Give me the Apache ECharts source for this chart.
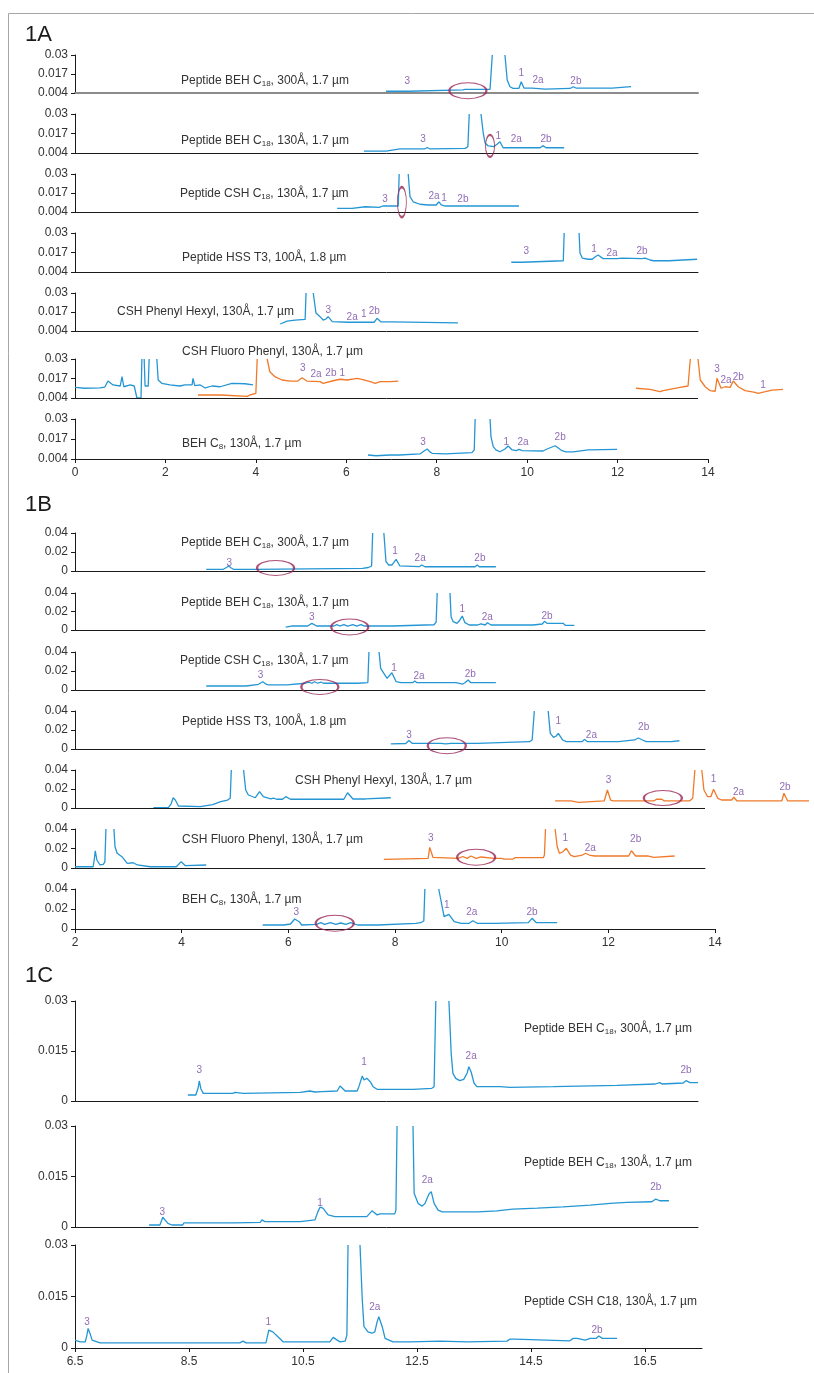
<!DOCTYPE html>
<html>
<head>
<meta charset="utf-8">
<script src="https://cdn.jsdelivr.net/npm/echarts@6/dist/echarts.min.js"></script>
<style>
  html, body { margin: 0; padding: 0; background: #fff; }
  #chart { width: 814px; height: 1373px; }
</style>
</head>
<body>
<div id="chart"></div>
<script>
// ---------- tick labels ----------
const A_yTicks = [0.004, 0.017, 0.03];
const A_xTicks = [0, 2, 4, 6, 8, 10, 12, 14];
const B_yTicks = [0, 0.02, 0.04];
const B_xTicks = [2, 4, 6, 8, 10, 12, 14];
const C_yTicks = [0, 0.015, 0.03];
const C_xTicks = [6.5, 8.5, 10.5, 12.5, 14.5, 16.5];

// ---------- chromatogram traces: [time (min), absorbance (AU)]; a null absorbance marks an off-scale gap ----------
// 1A
const A1_blue = [[6.88,0.0052],[7.37,0.0052],[7.39,0.0063],[8.58,0.0061],[8.63,0.0065],[9.18,0.0065],[9.23,0.03],[9.37,null],[9.51,0.03],[9.56,0.0129],[9.62,0.0083],[9.69,0.0072],[9.82,0.0072],[9.87,0.0117],[9.93,0.0074],[10.11,0.0074],[10.15,0.0067],[10.4,0.0067],[10.44,0.0071],[10.95,0.0071],[11.02,0.0083],[11.08,0.0074],[11.88,0.0074],[11.9,0.0083],[12.3,0.0083]];
const A1_peaks = [['3',7.35,0.0122],['1',9.87,0.0177],['2a',10.24,0.0129],['2b',11.08,0.0122]];
const A1_rings = [[8.69,0.0056]];

const A2_blue = [[6.39,0.0053],[6.88,0.0053],[6.9,0.006],[7.19,0.0067],[7.73,0.0067],[7.79,0.0077],[7.85,0.0067],[8.63,0.0071],[8.69,0.0082],[8.72,0.03],[8.85,null],[8.98,0.03],[9.03,0.0173],[9.07,0.0107],[9.14,0.0087],[9.27,0.0083],[9.34,0.01],[9.4,0.0115],[9.47,0.0075],[10.29,0.0075],[10.35,0.0089],[10.42,0.0075],[10.82,0.0075]];
const A2_peaks = [['3',7.7,0.0133],['1',9.36,0.0153],['2a',9.76,0.0133],['2b',10.42,0.0133]];
const A2_rings = [[9.18,0.0087]];

const A3_blue = [[5.8,0.0065],[6.13,0.0065],[6.15,0.0076],[6.42,0.0076],[6.44,0.0071],[6.73,0.0071],[6.75,0.0076],[6.81,0.0081],[7.15,0.0081],[7.17,0.03],[7.27,null],[7.37,0.03],[7.41,0.0145],[7.48,0.011],[7.63,0.0093],[7.81,0.0088],[7.99,0.0088],[8.05,0.011],[8.1,0.0088],[8.19,0.0081],[8.63,0.0081],[8.67,0.0088],[8.74,0.0081],[9.82,0.0081]];
const A3_peaks = [['3',6.86,0.0129],['2a',7.94,0.0149],['1',8.16,0.0136],['2b',8.58,0.0129]];
const A3_rings = [[7.23,0.0108]];

const A4_blue = [[9.65,0.0105],[9.89,0.0105],[9.91,0.0115],[10.8,0.0115],[10.82,0.03],[10.98,null],[11.15,0.03],[11.17,0.0167],[11.22,0.0133],[11.35,0.0125],[11.44,0.0125],[11.5,0.014],[11.57,0.0153],[11.68,0.0129],[11.99,0.0129],[12.1,0.0133],[12.54,0.0129],[12.61,0.0133],[12.72,0.012],[12.79,0.0115],[13.14,0.0115],[13.16,0.0125],[13.76,0.0125]];
const A4_peaks = [['3',9.98,0.018],['1',11.48,0.0193],['2a',11.88,0.0167],['2b',12.54,0.018]];

const A5_blue = [[4.54,0.0088],[4.69,0.0108],[4.87,0.0115],[5.09,0.0119],[5.11,0.03],[5.19,null],[5.27,0.03],[5.33,0.0163],[5.42,0.0138],[5.49,0.0115],[5.55,0.0122],[5.6,0.0138],[5.69,0.0104],[6.04,0.01],[6.08,0.0108],[6.13,0.01],[6.35,0.01],[6.37,0.0112],[6.42,0.01],[6.62,0.01],[6.68,0.0127],[6.77,0.0102],[7.01,0.0102],[7.04,0.0095],[8.47,0.0095]];
const A5_peaks = [['3',5.6,0.0184],['2a',6.13,0.0136],['1',6.39,0.0156],['2b',6.62,0.0177]];

const A6_blue = [[0,0.0111],[0.22,0.0105],[0.55,0.0107],[0.66,0.0113],[0.73,0.0153],[0.84,0.0127],[1.0,0.012],[1.02,0.012],[1.04,0.0182],[1.08,0.0115],[1.22,0.0127],[1.31,0.012],[1.35,0.012],[1.37,0.004],[1.46,0.004],[1.48,0.03],[1.5,null],[1.53,0.03],[1.55,0.012],[1.62,0.012],[1.64,0.03],[1.72,null],[1.81,0.03],[1.84,0.016],[1.92,0.0138],[2.1,0.0127],[2.32,0.012],[2.43,0.0127],[2.59,0.0127],[2.61,0.0171],[2.65,0.0122],[2.77,0.0127],[2.88,0.0107],[3.03,0.012],[3.21,0.0115],[3.47,0.0138],[3.76,0.0135],[3.94,0.0127]];
const A6_orange = [[2.72,0.006],[3.23,0.006],[3.25,0.0051],[3.81,0.0051],[3.87,0.006],[4.0,0.0071],[4.03,0.03],[4.14,null],[4.25,0.03],[4.31,0.0215],[4.42,0.0182],[4.58,0.016],[4.76,0.0153],[4.93,0.0153],[5.02,0.0175],[5.13,0.0153],[5.42,0.0149],[5.49,0.0138],[5.71,0.0155],[5.86,0.0165],[6.02,0.016],[6.24,0.0171],[6.37,0.0162],[6.53,0.0149],[6.64,0.0138],[6.75,0.0149],[6.97,0.0149],[7.15,0.0153],[9.8,null],[12.41,0.0105],[12.72,0.0097],[12.94,0.0082],[13.01,0.0089],[13.38,0.0111],[13.56,0.012],[13.61,0.03],[13.7,null],[13.78,0.03],[13.83,0.016],[13.94,0.0115],[14.05,0.0089],[14.16,0.0085],[14.2,0.0171],[14.29,0.0105],[14.38,0.0115],[14.49,0.0111],[14.56,0.0153],[14.67,0.0115],[14.82,0.0089],[15.04,0.0078],[15.11,0.0071],[15.27,0.0082],[15.42,0.0093],[15.66,0.0098]];
const A6_peaks = [['3',5.04,0.024],['2a',5.33,0.02],['2b',5.66,0.0207],['1',5.91,0.0207],['3',14.2,0.0233],['2a',14.4,0.016],['2b',14.67,0.018],['1',15.22,0.0127]];

const A7_blue = [[6.48,0.0066],[6.66,0.0061],[6.97,0.0066],[7.17,0.0066],[7.19,0.0073],[7.63,0.0073],[7.72,0.0092],[7.79,0.0105],[7.85,0.0086],[7.9,0.0077],[8.19,0.0073],[8.21,0.0081],[8.78,0.0081],[8.83,0.0099],[8.85,0.03],[9.02,null],[9.18,0.03],[9.2,0.0185],[9.25,0.012],[9.31,0.0099],[9.4,0.0087],[9.51,0.0105],[9.58,0.0125],[9.67,0.0099],[9.76,0.0094],[9.82,0.0102],[9.89,0.0094],[10.35,0.0092],[10.44,0.0105],[10.62,0.0126],[10.77,0.0094],[10.86,0.0086],[11.02,0.0086],[11.04,0.0099],[11.35,0.0099],[11.37,0.0103],[11.99,0.0103]];
const A7_peaks = [['3',7.7,0.0151],['1',9.54,0.0151],['2a',9.91,0.0151],['2b',10.73,0.0183]];

// 1B
const B1_blue = [[4.46,0.0018],[4.78,0.0018],[4.84,0.0037],[4.88,0.0053],[4.93,0.0032],[4.97,0.0018],[5.35,0.0018],[5.36,0.0028],[7.39,0.0028],[7.5,0.0037],[7.56,0.0053],[7.58,0.04],[7.68,null],[7.79,0.04],[7.83,0.0098],[7.88,0.0063],[7.94,0.0063],[8.02,0.0123],[8.09,0.0053],[8.45,0.0045],[8.5,0.0063],[8.56,0.0045],[9.5,0.0045],[9.54,0.0063],[9.58,0.0045],[9.89,0.0045]];
const B1_peaks = [['3',4.89,0.0084],['1',8.0,0.021],['2a',8.47,0.0137],['2b',9.59,0.0137]];
const B1_rings = [[5.76,0.0032]];

const B2_blue = [[5.95,0.0032],[6.06,0.0043],[6.36,0.0043],[6.44,0.0072],[6.53,0.0043],[6.85,0.0043],[6.91,0.0059],[6.96,0.0043],[7.04,0.0059],[7.11,0.0043],[7.21,0.0059],[7.28,0.0043],[7.36,0.0059],[7.43,0.0043],[7.94,0.0043],[7.96,0.0057],[8.73,0.0057],[8.77,0.0086],[8.79,0.04],[8.91,null],[9.03,0.04],[9.05,0.0144],[9.09,0.009],[9.16,0.0072],[9.2,0.0097],[9.26,0.0151],[9.31,0.0079],[9.39,0.0054],[9.54,0.0054],[9.61,0.0065],[9.69,0.0054],[9.73,0.0079],[9.8,0.0054],[10.59,0.0054],[10.61,0.0065],[10.76,0.0065],[10.8,0.0094],[10.85,0.0072],[11.15,0.0072],[11.19,0.0051],[11.36,0.0051]];
const B2_peaks = [['3',6.44,0.0141],['1',9.26,0.0227],['2a',9.73,0.0141],['2b',10.85,0.0151]];
const B2_rings = [[7.15,0.0032]];

const B3_blue = [[4.46,0.0042],[5.21,0.0042],[5.23,0.006],[5.44,0.006],[5.52,0.0087],[5.59,0.0058],[5.63,0.0053],[5.97,0.0053],[5.98,0.0071],[6.32,0.0071],[6.38,0.0084],[6.44,0.0071],[6.49,0.0087],[6.55,0.0071],[6.61,0.0084],[6.66,0.0071],[7.3,0.0071],[7.32,0.0077],[7.49,0.0077],[7.51,0.04],[7.6,null],[7.7,0.04],[7.73,0.0228],[7.79,0.0176],[7.85,0.0123],[7.88,0.0105],[7.94,0.0182],[8.02,0.0087],[8.11,0.0077],[8.33,0.0077],[8.37,0.0095],[8.41,0.0077],[9.14,0.0077],[9.16,0.0063],[9.27,0.0063],[9.31,0.0077],[9.37,0.0105],[9.42,0.0077],[9.89,0.0077]];
const B3_peaks = [['3',5.48,0.0158],['1',7.98,0.0232],['2a',8.45,0.0147],['2b',9.41,0.0168]];
const B3_rings = [[6.59,0.0032]];

const B4_blue = [[7.92,0.0053],[8.2,0.0058],[8.26,0.0089],[8.32,0.006],[8.86,0.006],[8.95,0.0053],[9.05,0.006],[9.54,0.006],[9.56,0.0077],[10.52,0.0077],[10.57,0.0095],[10.61,0.04],[10.74,null],[10.87,0.04],[10.91,0.0165],[10.97,0.0123],[11.02,0.0137],[11.06,0.0165],[11.14,0.0095],[11.21,0.0077],[11.51,0.0077],[11.55,0.0102],[11.61,0.0077],[12.19,0.0077],[12.21,0.0095],[12.49,0.0095],[12.56,0.0116],[12.64,0.0095],[12.71,0.0077],[13.18,0.0077],[13.33,0.0087]];
const B4_peaks = [['3',8.26,0.0147],['1',11.06,0.0295],['2a',11.68,0.0147],['2b',12.66,0.0232]];
const B4_rings = [[8.97,0.0035]];

const B5_blue = [[3.47,0.0003],[3.75,0.0003],[3.8,0.0042],[3.84,0.0108],[3.88,0.0084],[3.94,0.0021],[4.35,0.0014],[4.37,0.0035],[4.58,0.0035],[4.59,0.0056],[4.73,0.0066],[4.86,0.0084],[4.91,0.0102],[4.93,0.04],[5.04,null],[5.16,0.04],[5.2,0.0189],[5.25,0.0137],[5.38,0.0108],[5.46,0.0172],[5.53,0.0119],[5.67,0.0095],[5.72,0.0105],[5.78,0.0092],[5.89,0.0092],[5.95,0.0119],[6.04,0.0092],[7.04,0.0092],[7.11,0.0161],[7.21,0.0095],[7.45,0.0095],[7.47,0.0108],[7.92,0.0108]];
const B5_orange = [[11.0,0.0074],[11.3,0.0074],[11.32,0.006],[11.44,0.006],[11.45,0.0074],[11.92,0.0074],[11.98,0.0189],[12.04,0.0084],[12.09,0.0074],[12.85,0.0074],[12.9,0.0092],[13.0,0.0092],[13.05,0.0074],[13.52,0.0074],[13.58,0.0102],[13.62,0.04],[13.68,null],[13.75,0.04],[13.79,0.0189],[13.86,0.0119],[13.92,0.0119],[13.97,0.0197],[14.05,0.0102],[14.12,0.0084],[14.31,0.0084],[14.35,0.0113],[14.41,0.0074],[15.25,0.0074],[15.29,0.0155],[15.36,0.0074],[15.76,0.0074]];
const B5_peaks = [['3',12.0,0.0295],['1',13.97,0.0305],['2a',14.44,0.0168],['2b',15.31,0.0221]];
const B5_rings = [[13.02,0.0105]];

const B6_blue = [[2.0,0.0013],[2.34,0.0013],[2.36,0.0082],[2.38,0.0177],[2.41,0.0082],[2.47,0.0031],[2.53,0.0038],[2.56,0.0062],[2.58,0.04],[2.65,null],[2.73,0.04],[2.75,0.0218],[2.79,0.0151],[2.81,0.0167],[2.88,0.0116],[2.98,0.0048],[3.09,0.0054],[3.17,0.0031],[3.41,0.0013],[3.9,0.0013],[3.99,0.0065],[4.07,0.0024],[4.46,0.0031]];
const B6_orange = [[7.79,0.0089],[8.62,0.0099],[8.65,0.0212],[8.71,0.011],[9.18,0.0099],[9.27,0.0118],[9.35,0.0099],[9.42,0.0123],[9.52,0.0099],[9.61,0.0113],[9.86,0.0099],[9.99,0.0099],[10.05,0.0092],[10.21,0.0092],[10.25,0.0106],[10.78,0.0106],[10.8,0.0133],[10.82,0.04],[10.91,null],[11.0,0.04],[11.04,0.0218],[11.08,0.0151],[11.14,0.0164],[11.21,0.0202],[11.29,0.0133],[11.36,0.0116],[11.51,0.0133],[11.57,0.0151],[11.64,0.0133],[11.74,0.0123],[12.38,0.0123],[12.43,0.0177],[12.51,0.0123],[12.75,0.0123],[12.77,0.011],[12.85,0.011],[12.86,0.0123],[13.24,0.0123]];
const B6_peaks = [['3',8.67,0.0308],['1',11.19,0.0308],['2a',11.66,0.0205],['2b',12.51,0.0297]];
const B6_rings = [[9.52,0.011]];

const B7_blue = [[5.52,0.004],[5.91,0.004],[6.04,0.005],[6.12,0.01],[6.15,0.0113],[6.21,0.007],[6.25,0.004],[6.53,0.0047],[6.61,0.0063],[6.68,0.0047],[6.79,0.0063],[6.89,0.0047],[6.98,0.006],[7.08,0.0047],[7.17,0.0063],[7.26,0.0047],[7.3,0.004],[7.68,0.004],[7.7,0.0057],[8.39,0.0057],[8.48,0.0063],[8.54,0.008],[8.56,0.04],[8.69,null],[8.82,0.04],[8.86,0.029],[8.92,0.0123],[8.95,0.012],[9.01,0.0147],[9.11,0.0073],[9.24,0.0057],[9.39,0.0057],[9.46,0.0083],[9.54,0.0057],[9.86,0.0057],[9.88,0.0063],[10.5,0.0063],[10.57,0.0107],[10.65,0.0063],[11.04,0.0063]];
const B7_peaks = [['3',6.15,0.0163],['1',8.97,0.0233],['2a',9.44,0.0163],['2b',10.57,0.0163]];
const B7_rings = [[6.87,0.0057]];

// 1C
const C1_blue = [[8.48,0.0018],[8.62,0.0018],[8.66,0.0039],[8.68,0.006],[8.71,0.0036],[8.75,0.0023],[9.27,0.0023],[9.31,0.0026],[9.34,0.0023],[9.45,0.0023],[9.46,0.0026],[10.45,0.0026],[10.46,0.003],[10.62,0.003],[10.71,0.0027],[10.83,0.0028],[10.85,0.003],[11.1,0.003],[11.15,0.0045],[11.24,0.003],[11.45,0.003],[11.48,0.0043],[11.54,0.0075],[11.57,0.0063],[11.62,0.0068],[11.68,0.0058],[11.73,0.0043],[11.8,0.0035],[12.43,0.0035],[12.45,0.0038],[12.76,0.0038],[12.8,0.0043],[12.83,0.03],[12.94,null],[13.06,0.03],[13.1,0.0143],[13.13,0.0083],[13.18,0.0068],[13.25,0.0061],[13.32,0.0065],[13.38,0.0084],[13.41,0.0103],[13.45,0.0087],[13.5,0.0054],[13.55,0.0043],[13.96,0.0043],[13.97,0.0041],[14.13,0.0041],[14.15,0.0043],[14.89,0.0043],[14.9,0.0047],[16.01,0.0047],[16.03,0.0051],[16.68,0.0051],[16.69,0.0055],[16.76,0.0055],[16.8,0.0051],[16.83,0.0054],[17.17,0.0054],[17.22,0.0061],[17.29,0.0055],[17.43,0.0055]];
const C1_peaks = [['3',8.68,0.0091],['1',11.57,0.0115],['2a',13.45,0.0135],['2b',17.22,0.0091]];

const C2_blue = [[7.8,0.0006],[7.99,0.0006],[8.04,0.0029],[8.13,0.0011],[8.2,0.0006],[8.39,0.0006],[8.41,0.0012],[9.31,0.0012],[9.32,0.0014],[9.75,0.0014],[9.78,0.0021],[9.83,0.0016],[10.45,0.0016],[10.46,0.0021],[10.71,0.0021],[10.76,0.0045],[10.8,0.0059],[10.85,0.0056],[10.94,0.0036],[11.06,0.0031],[11.62,0.0031],[11.71,0.0048],[11.8,0.0036],[11.85,0.0039],[12.11,0.0039],[12.13,0.005],[12.15,0.03],[12.29,null],[12.43,0.03],[12.45,0.01],[12.52,0.007],[12.59,0.0062],[12.64,0.007],[12.71,0.0098],[12.75,0.0105],[12.8,0.007],[12.87,0.005],[12.94,0.0045],[13.57,0.0045],[13.59,0.0048],[13.9,0.0048],[13.92,0.0053],[14.18,0.0053],[14.2,0.0056],[14.61,0.0056],[14.62,0.006],[15.06,0.006],[15.08,0.0065],[15.54,0.0065],[15.55,0.007],[15.89,0.007],[15.9,0.0073],[16.18,0.0073],[16.2,0.0075],[16.62,0.0075],[16.69,0.0083],[16.76,0.0078],[16.92,0.0078]];
const C2_peaks = [['3',8.03,0.0045],['1',10.8,0.0072],['2a',12.68,0.0138],['2b',16.69,0.0117]];

const C3_blue = [[6.5,0.0023],[6.59,0.0018],[6.68,0.0018],[6.71,0.0038],[6.73,0.0057],[6.76,0.0044],[6.8,0.0023],[6.94,0.0015],[9.39,0.0015],[9.45,0.002],[9.5,0.0015],[9.85,0.0015],[9.9,0.0052],[9.97,0.0047],[10.06,0.0033],[10.15,0.0018],[10.97,0.0018],[11.03,0.0031],[11.1,0.0023],[11.15,0.0018],[11.24,0.002],[11.27,0.0038],[11.29,0.03],[11.4,null],[11.5,0.03],[11.54,0.014],[11.57,0.0062],[11.64,0.0047],[11.71,0.0043],[11.76,0.0047],[11.8,0.0076],[11.83,0.0091],[11.89,0.0062],[11.94,0.0028],[12.08,0.0018],[12.38,0.0018],[12.39,0.002],[12.9,0.002],[12.92,0.0018],[13.38,0.0018],[13.39,0.002],[14.08,0.002],[14.13,0.0026],[14.22,0.0026],[14.25,0.0021],[15.18,0.0021],[15.24,0.0028],[15.31,0.0028],[15.34,0.0023],[15.45,0.0023],[15.54,0.0028],[15.64,0.0028],[15.69,0.0035],[15.75,0.0028],[16.01,0.0028]];
const C3_peaks = [['3',6.71,0.0074],['1',9.89,0.0074],['2a',11.76,0.0118],['2b',15.66,0.0052]];

// ---------- styles ----------
const FONT = '"Liberation Sans", Arial, Helvetica, sans-serif';
const BLUE = '#2596d4';
const ORANGE = '#f07a2a';
const PURPLE = '#7446a3';
const RING = '#9a2456';
const AXIS = '#1a1a1a';
const TEXT = '#333333';

const RICH = {
  a: { fontSize: 12, fontFamily: FONT, fill: TEXT },
  s: { fontSize: 8, fontFamily: FONT, fill: TEXT, padding: [6, 0, 0, 0] }
};

// ---------- sub-plot layout ----------
// x: visible axis range; ext: time the plotting area is widened to for traces running past the axis end
const plots = [
  // 1A  (time 0–14 min)
  { top: 55, bottom: 93, right: 698, x: [0, 13.78], yTicks: A_yTicks, axisColor: '#8c8c8c', axisWidth: 2,
    title: { x: 181, y: 81, text: '{a|Peptide BEH C}{s|18}{a|, 300Å, 1.7 µm}' },
    traces: [[A1_blue, BLUE]], peaks: A1_peaks, rings: A1_rings, ringSize: [37, 16] },
  { top: 114, bottom: 153, right: 698, x: [0, 13.78], yTicks: A_yTicks,
    title: { x: 181, y: 141, text: '{a|Peptide BEH C}{s|18}{a|, 130Å, 1.7 µm}' },
    traces: [[A2_blue, BLUE]], peaks: A2_peaks, rings: A2_rings, ringSize: [9, 22] },
  { top: 174, bottom: 212, right: 698, x: [0, 13.78], yTicks: A_yTicks,
    title: { x: 180, y: 194, text: '{a|Peptide CSH C}{s|18}{a|, 130Å, 1.7 µm}' },
    traces: [[A3_blue, BLUE]], peaks: A3_peaks, rings: A3_rings, ringSize: [9, 30] },
  { top: 233, bottom: 272, right: 698, x: [0, 13.78], yTicks: A_yTicks,
    title: { x: 182, y: 258, text: '{a|Peptide HSS T3, 100Å, 1.8 µm}' },
    traces: [[A4_blue, BLUE]], peaks: A4_peaks },
  { top: 293, bottom: 331, right: 698, x: [0, 13.78], yTicks: A_yTicks,
    title: { x: 117, y: 312, text: '{a|CSH Phenyl Hexyl, 130Å, 1.7 µm}' },
    traces: [[A5_blue, BLUE]], peaks: A5_peaks },
  { top: 359, bottom: 398, right: 698, x: [0, 13.78], ext: 15.8, yTicks: A_yTicks,
    title: { x: 182, y: 352, text: '{a|CSH Fluoro Phenyl, 130Å, 1.7 µm}' },
    traces: [[A6_blue, BLUE], [A6_orange, ORANGE]], peaks: A6_peaks },
  { top: 419, bottom: 459, right: 708, x: [0, 14], yTicks: A_yTicks, xTicks: A_xTicks,
    title: { x: 182, y: 444, text: '{a|BEH C}{s|8}{a|, 130Å, 1.7 µm}' },
    traces: [[A7_blue, BLUE]], peaks: A7_peaks },

  // 1B  (time 2–14 min)
  { top: 533, bottom: 571, right: 705, x: [2, 13.81], yTicks: B_yTicks,
    title: { x: 181, y: 543, text: '{a|Peptide BEH C}{s|18}{a|, 300Å, 1.7 µm}' },
    traces: [[B1_blue, BLUE]], peaks: B1_peaks, rings: B1_rings, ringSize: [37, 15] },
  { top: 593, bottom: 630, right: 705, x: [2, 13.81], yTicks: B_yTicks,
    title: { x: 181, y: 603, text: '{a|Peptide BEH C}{s|18}{a|, 130Å, 1.7 µm}' },
    traces: [[B2_blue, BLUE]], peaks: B2_peaks, rings: B2_rings, ringSize: [37, 16] },
  { top: 652, bottom: 690, right: 705, x: [2, 13.81], yTicks: B_yTicks,
    title: { x: 180, y: 661, text: '{a|Peptide CSH C}{s|18}{a|, 130Å, 1.7 µm}' },
    traces: [[B3_blue, BLUE]], peaks: B3_peaks, rings: B3_rings, ringSize: [37, 15] },
  { top: 711, bottom: 749, right: 705, x: [2, 13.81], yTicks: B_yTicks,
    title: { x: 182, y: 722, text: '{a|Peptide HSS T3, 100Å, 1.8 µm}' },
    traces: [[B4_blue, BLUE]], peaks: B4_peaks, rings: B4_rings, ringSize: [38, 16] },
  { top: 770, bottom: 808, right: 705, x: [2, 13.81], ext: 15.8, yTicks: B_yTicks,
    title: { x: 295, y: 781, text: '{a|CSH Phenyl Hexyl, 130Å, 1.7 µm}' },
    traces: [[B5_blue, BLUE], [B5_orange, ORANGE]], peaks: B5_peaks, rings: B5_rings, ringSize: [38, 15] },
  { top: 829, bottom: 868, right: 705, x: [2, 13.81], yTicks: B_yTicks,
    title: { x: 182, y: 840, text: '{a|CSH Fluoro Phenyl, 130Å, 1.7 µm}' },
    traces: [[B6_blue, BLUE], [B6_orange, ORANGE]], peaks: B6_peaks, rings: B6_rings, ringSize: [38, 16] },
  { top: 889, bottom: 929, right: 715, x: [2, 14], yTicks: B_yTicks, xTicks: B_xTicks,
    title: { x: 182, y: 900, text: '{a|BEH C}{s|8}{a|, 130Å, 1.7 µm}' },
    traces: [[B7_blue, BLUE]], peaks: B7_peaks, rings: B7_rings, ringSize: [38, 16] },

  // 1C  (time 6.5–17.5 min)
  { top: 1001, bottom: 1101, right: 698, x: [6.5, 17.43], yTicks: C_yTicks,
    title: { x: 524, y: 1029, text: '{a|Peptide BEH C}{s|18}{a|, 300Å, 1.7 µm}' },
    traces: [[C1_blue, BLUE]], peaks: C1_peaks },
  { top: 1126, bottom: 1227, right: 698, x: [6.5, 17.43], yTicks: C_yTicks,
    title: { x: 524, y: 1163, text: '{a|Peptide BEH C}{s|18}{a|, 130Å, 1.7 µm}' },
    traces: [[C2_blue, BLUE]], peaks: C2_peaks },
  { top: 1245, bottom: 1348, right: 702, x: [6.5, 17.5], yTicks: C_yTicks, xTicks: C_xTicks,
    title: { x: 524, y: 1302, text: '{a|Peptide CSH C18, 130Å, 1.7 µm}' },
    traces: [[C3_blue, BLUE]], peaks: C3_peaks }
];

const panelLetters = [
  { text: '1A', y: 35 },
  { text: '1B', y: 505 },
  { text: '1C', y: 976 }
];

// ---------- option ----------
const LEFT = 75;
const grid = [], xAxis = [], yAxis = [], series = [], graphic = [];

plots.forEach((p, i) => {
  const pxPerUnit = (p.right - LEFT) / (p.x[1] - p.x[0]);
  const xEnd = p.ext || p.x[1];
  const width = (xEnd - p.x[0]) * pxPerUnit;
  grid.push({ left: LEFT, top: p.top, width: width, height: p.bottom - p.top, containLabel: false });

  const hasX = !!p.xTicks;
  const baseStyle = { color: p.axisColor || AXIS, width: p.axisWidth || 1 };
  xAxis.push({
    type: 'value', gridIndex: i, min: p.x[0], max: xEnd,
    interval: hasX ? p.xTicks[1] - p.xTicks[0] : undefined,
    axisLine: { show: !p.ext, onZero: false, lineStyle: baseStyle },
    axisTick: hasX ? { show: true, length: 4, inside: false, customValues: p.xTicks, lineStyle: { color: AXIS } } : { show: false },
    axisLabel: hasX ? { show: true, customValues: p.xTicks, color: TEXT, fontSize: 12, fontFamily: FONT, margin: 8 } : { show: false },
    splitLine: { show: false }
  });

  const yt = p.yTicks;
  yAxis.push({
    type: 'value', gridIndex: i, min: yt[0], max: yt[yt.length - 1], interval: yt[1] - yt[0],
    axisLine: { show: true, lineStyle: { color: AXIS, width: 1 } },
    axisTick: { show: true, length: 4, customValues: yt, lineStyle: { color: AXIS } },
    axisLabel: { customValues: yt, color: TEXT, fontSize: 12, fontFamily: FONT, margin: 7 },
    splitLine: { show: false }
  });

  p.traces.forEach(([data, color], k) => {
    const s = {
      type: 'line', xAxisIndex: i, yAxisIndex: i, data: data,
      showSymbol: false, symbol: 'none', clip: false, connectNulls: false,
      lineStyle: { color: color, width: 1.3 }, itemStyle: { color: color },
      silent: true, z: 3
    };
    // widened plots: the time axis baseline stops at the visible axis end
    if (p.ext && k === 0) {
      s.markLine = {
        silent: true, symbol: ['none', 'none'], label: { show: false }, animation: false,
        lineStyle: { color: baseStyle.color, width: baseStyle.width, type: 'solid' },
        data: [[{ coord: [p.x[0], yt[0]] }, { coord: [p.x[1], yt[0]] }]]
      };
    }
    series.push(s);
  });

  if (p.rings) {
    series.push({
      type: 'scatter', xAxisIndex: i, yAxisIndex: i, data: p.rings,
      symbol: 'circle', symbolSize: p.ringSize, clip: false, silent: true, z: 4,
      itemStyle: { color: 'rgba(0,0,0,0)', borderColor: RING, borderWidth: 1.5 }
    });
  }

  series.push({
    type: 'scatter', xAxisIndex: i, yAxisIndex: i,
    data: p.peaks.map(([name, x, y]) => ({ name: name, value: [x, y] })),
    symbol: 'circle', symbolSize: 1, clip: false, silent: true, z: 5,
    itemStyle: { color: 'rgba(0,0,0,0)' },
    label: { show: true, position: 'inside', formatter: '{b}', color: PURPLE, fontSize: 10, fontFamily: FONT }
  });

  graphic.push({
    type: 'text', x: p.title.x, y: p.title.y, silent: true,
    style: { text: p.title.text, rich: RICH, align: 'left', verticalAlign: 'middle' }
  });
});

panelLetters.forEach(l => {
  graphic.push({
    type: 'text', x: 25, y: l.y, silent: true,
    style: { text: l.text, fontSize: 22, fontFamily: FONT, fill: '#1a1a1a', align: 'left', verticalAlign: 'middle' }
  });
});

// figure frame (top and left border)
graphic.push({ type: 'line', silent: true, shape: { x1: 8.5, y1: 13.5, x2: 814, y2: 13.5 }, style: { stroke: '#a6a6a6', lineWidth: 1 } });
graphic.push({ type: 'line', silent: true, shape: { x1: 8.5, y1: 13.5, x2: 8.5, y2: 1373 }, style: { stroke: '#a6a6a6', lineWidth: 1 } });

const chart = echarts.init(document.getElementById('chart'), null, { renderer: 'canvas' });
chart.setOption({
  animation: false,
  backgroundColor: '#ffffff',
  grid: grid, xAxis: xAxis, yAxis: yAxis, series: series, graphic: graphic
});
</script>
</body>
</html>
